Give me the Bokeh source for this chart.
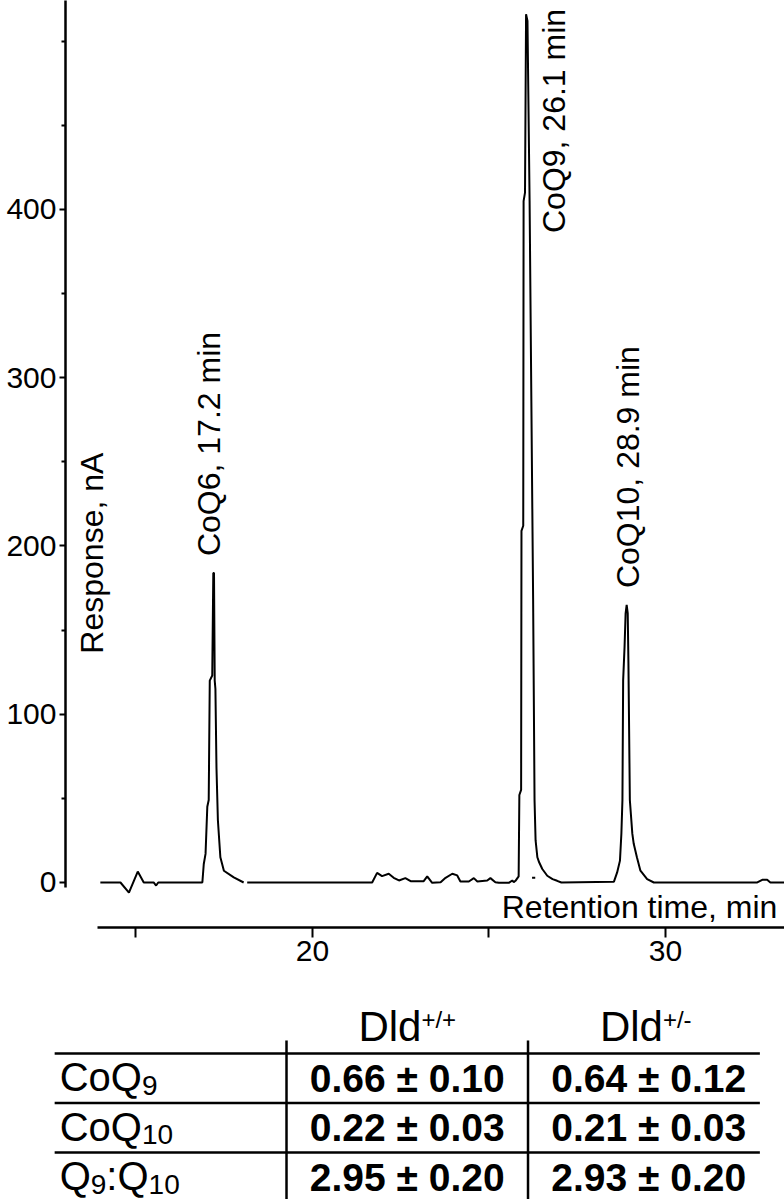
import math
from bokeh.plotting import figure
from bokeh.models import Range1d, FixedTicker, Label, ColumnDataSource
from bokeh.layouts import column
from bokeh.embed import file_html
from bokeh.resources import INLINE
from bokeh.core.properties import value

nan = float("nan")

# ---------------- data ----------------
# chromatogram trace: retention time (min) and detector response (nA); NaN marks breaks in the trace
time_min = [13.99, 14.56, 14.80, 15.05, 15.22, 15.50, 15.57, 15.63, 16.83, 16.88, 16.92, 16.97,
            17.02, 17.06, 17.09, 17.16, 17.19, 17.21, 17.23, 17.25, 17.28, 17.32, 17.39, 17.49,
            17.77, 18.05, nan, 18.15, 21.69, 21.83, 21.97, 22.16, 22.30, 22.45, 22.63, 22.78,
            23.15, 23.25, 23.39, 23.63, 23.77, 23.96, 24.10, 24.19, 24.43, 24.57, 24.67, 24.95,
            25.04, 25.18, 25.28, 25.56, 25.66, 25.70, 25.75, 25.84, 25.86, 25.91, 25.92, 25.97,
            25.98, 26.02, 26.05, 26.09, 26.15, 26.20, 26.25, 26.29, 26.32, 26.37, 26.42, 26.51,
            26.65, 26.80, 26.93, 27.05, 28.54, 28.63, 28.71, 28.75, 28.78, 28.80, 28.84, 28.87,
            28.90, 28.93, 28.95, 28.99, 29.06, 29.10, 29.19, 29.29, 29.48, 29.67, 32.60, 32.74,
            32.88, 32.97, 33.40, nan, 26.22, 26.31]
response = [0, 0, -6, 6.5, 0, 0, -1.8, 0, 0, 0, 11, 17,
            45, 49, 120, 123, 184, 184, 120, 115, 68, 37, 15, 7,
            3, 0, nan, 0, 0, 5.7, 3.8, 5.2, 2.8, 1.2, 2.6, 0.8,
            0.8, 3.6, -0.2, 0.2, 2.8, 5.2, 4.2, 0.6, 0.6, 2.6, 0.6, 1.2,
            2.6, 0.2, -0.2, -0.2, 1.2, 0.2, 1.0, 3.6, 52, 55, 209, 212,
            405, 410, 516, 512, 405, 286, 168, 49, 25, 15, 12, 8,
            4, 2, 1, 0, 0.5, 6, 13, 29, 49, 120, 140, 160,
            165, 160, 130, 49, 29, 23, 15, 7, 2, 0, 0, 1.6,
            1.6, 0, 0, nan, 2.8, 2.8]

peak_names = ["CoQ6", "CoQ9", "CoQ10"]
peak_times = [17.2, 26.1, 28.9]

x_major_ticks = [15, 20, 25, 30]
x_labelled_ticks = [20, 30]
y_major_ticks = [0, 100, 200, 300, 400]
y_minor_ticks = [50, 150, 250, 350, 450, 500]

# table: CoQ content
col_headers = ["Dld", "Dld"]
col_header_sup = ["+/+", "+/-"]
row_label_parts = [[("CoQ", "9")], [("CoQ", "10")], [("Q", "9"), (":Q", "10")]]
mean_wt = [0.66, 0.22, 2.95]
sd_wt = [0.10, 0.03, 0.20]
mean_het = [0.64, 0.21, 2.93]
sd_het = [0.12, 0.03, 0.20]

FONT = value("Liberation Sans")

# ---------------- chromatogram ----------------
p = figure(width=784, height=977, x_range=Range1d(13.003, 33.371), y_range=Range1d(-26.75, 524.2),
           output_backend="svg", toolbar_location=None, title=None,
           min_border_left=65, min_border_right=0, min_border_top=0, min_border_bottom=50,
           background_fill_color="white", border_fill_color="white", outline_line_color=None)
p.grid.visible = False

xa = p.xaxis[0]
xa.ticker = FixedTicker(ticks=x_major_ticks, minor_ticks=[])
xa.major_label_overrides = {t: ("" if t not in x_labelled_ticks else str(t)) for t in x_major_ticks}
xa.bounds = (13.91, 33.371)
xa.axis_line_width = 2.5
xa.axis_line_color = "black"
xa.major_tick_line_width = 2
xa.major_tick_line_color = "black"
xa.major_tick_out = 10
xa.major_tick_in = 0
xa.major_label_standoff = 3
xa.major_label_text_font = "Liberation Sans"
xa.major_label_text_font_size = "30px"
xa.major_label_text_color = "black"

ya = p.yaxis[0]
ya.ticker = FixedTicker(ticks=y_major_ticks, minor_ticks=y_minor_ticks)
ya.bounds = (-3, 524.2)
ya.axis_line_width = 2.5
ya.axis_line_color = "black"
ya.major_tick_line_width = 2
ya.major_tick_line_color = "black"
ya.minor_tick_line_width = 2
ya.minor_tick_line_color = "black"
ya.major_tick_out = 6
ya.major_tick_in = 0
ya.minor_tick_out = 4
ya.minor_tick_in = 0
ya.major_label_standoff = 3
ya.major_label_text_font = "Liberation Sans"
ya.major_label_text_font_size = "30px"
ya.major_label_text_color = "black"

src = ColumnDataSource(dict(t=time_min, r=response))
p.line("t", "r", source=src, line_color="black", line_width=2)

# peak annotations (rotated), anchored beside each peak
label_x = [17.08, 26.83, 28.93]
label_y = [194, 386, 175]
p.text(x=label_x, y=label_y, text=[f"{n}, {t} min" for n, t in zip(peak_names, peak_times)],
       angle=math.pi / 2, text_font=FONT, text_font_size="32px", text_color="black",
       text_align="left", text_baseline="middle")

p.add_layout(Label(x=13.74, y=136, text="Response, nA", angle=math.pi / 2,
                   text_font="Liberation Sans", text_font_size="32px", text_color="black",
                   text_align="left", text_baseline="middle"))
p.add_layout(Label(x=33.17, y=-14.3, text="Retention time, min",
                   text_font="Liberation Sans", text_font_size="32px", text_color="black",
                   text_align="right", text_baseline="middle"))

# ---------------- table ----------------
# its frame is aligned with the chart's frame (left edge at 65 px); row labels extend left of it
t = figure(width=784, height=222, x_range=Range1d(0.0849, 3.062), y_range=Range1d(3.449, -1.035),
           output_backend="svg", toolbar_location=None, title=None,
           x_axis_type=None, y_axis_type=None,
           min_border_left=0, min_border_right=0, min_border_top=0, min_border_bottom=0,
           background_fill_color="white", border_fill_color="white", outline_line_color=None)
t.grid.visible = False

renderers = []
n_rows = len(row_label_parts)
rows = list(range(1, n_rows + 1))
bounds_y = [r - 0.5 for r in rows]
renderers.append(t.segment(x0=[0.04] * n_rows, x1=[2.96] * n_rows, y0=bounds_y, y1=bounds_y,
                           line_color="black", line_width=2.5))
renderers.append(t.segment(x0=[1, 2], x1=[1, 2], y0=[0.237, 0.237], y1=[3.6, 3.6],
                           line_color="black", line_width=2.5))

# column headers with superscripts
col_centers = [1.5, 2.5]
HF, SF = 42, 24
w_main = 1.5 * HF
w_sup = 1.446 * SF
junction = (w_main - w_sup) / 2
renderers.append(t.text(x=col_centers, y=[0, 0], text=col_headers, x_offset=junction, y_offset=-2,
                        text_font=FONT, text_font_size=f"{HF}px", text_color="black",
                        text_align="right", text_baseline="middle"))
renderers.append(t.text(x=col_centers, y=[0, 0], text=col_header_sup, x_offset=junction, y_offset=-9,
                        text_font=FONT, text_font_size=f"{SF}px", text_color="black",
                        text_align="left", text_baseline="middle"))

# values
renderers.append(t.text(x=[1.5] * n_rows, y=rows,
                        text=[f"{m:.2f} ± {s:.2f}" for m, s in zip(mean_wt, sd_wt)],
                        text_font=FONT, text_font_size="39px", text_font_style="bold",
                        text_color="black", text_align="center", text_baseline="middle"))
renderers.append(t.text(x=[2.5] * n_rows, y=rows,
                        text=[f"{m:.2f} ± {s:.2f}" for m, s in zip(mean_het, sd_het)],
                        text_font=FONT, text_font_size="39px", text_font_style="bold",
                        text_color="black", text_align="center", text_baseline="middle"))

# row labels with subscripts
widths = {"C": 0.722, "o": 0.556, "Q": 0.778, ":": 0.278}
def twidth(s, size):
    return sum(widths.get(ch, 0.556) for ch in s) * size

LF, LSF = 40, 28
for r, parts in zip(rows, row_label_parts):
    off = 5.0
    for main, sub in parts:
        renderers.append(t.text(x=[0.04], y=[r], text=[main], x_offset=off, y_offset=-1,
                                text_font=FONT, text_font_size=f"{LF}px", text_color="black",
                                text_align="left", text_baseline="middle"))
        off += twidth(main, LF)
        renderers.append(t.text(x=[0.04], y=[r], text=[sub], x_offset=off, y_offset=7,
                                text_font=FONT, text_font_size=f"{LSF}px", text_color="black",
                                text_align="left", text_baseline="middle"))
        off += twidth(sub, LSF)

for rr in renderers:
    rr.level = "overlay"

layout = column(p, t)
open("out.html", "w").write(file_html(layout, INLINE))
